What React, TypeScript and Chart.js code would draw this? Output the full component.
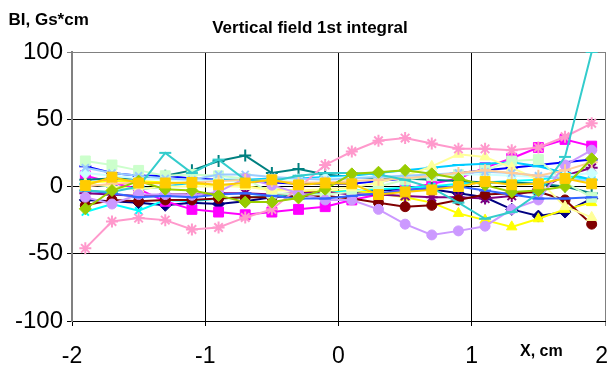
import React, { useEffect, useRef } from 'react';
import { Chart, registerables } from 'chart.js';

Chart.register(...registerables);

const chartTitle = 'Vertical field 1st integral';
const yAxisTitle = 'BI, Gs*cm';
const xAxisTitle = 'X, cm';
const xTickValues = [-2, -1, 0, 1, 2];

const xPositions = [-1.9, -1.7, -1.5, -1.3, -1.1, -0.9, -0.7, -0.5, -0.3, -0.1, 0.1, 0.3, 0.5, 0.7, 0.9, 1.1, 1.3, 1.5, 1.7, 1.9];

const s01Navy = [-10, -11, -12, -14, -12, -13, -11, -8, -6, -5, -4, -3, -2, -2, -5, -8, -17, -22, -19, -9];
const s02Magenta = [8, 3, -2, -11, -17, -19, -21, -19, -17, -15, -10, -6, -2, 2, 6, 14, 21, 29, 35, 30];
const s03Yellow = [3, 4, 4, 3, 2, 1, 0, -2, -3, -4, -3, -5, -8, -12, -20, -25, -30, -24, -17, -12];
const s04Cyan = [-19, -13, -18, -10, -11, -9, -8, -7, -6, -5, -3, -2, -1, 0, 2, 3, 4, 5, 8, 5];
const s05Purple = [-5, -6, -7, -6, -6, -5, -5, -6, -5, -4, -6, -6, -7, -8, -8, -9, -7, -2, 8, 14];
const s06Maroon = [-14, -10, -11, -10, -10, -9, -8, -8, -7, -7, -9, -12, -15, -14, -10, -6, -5, -4, -10, -28];
const s07Teal = [5, 6, 6, 8, 12, 19, 23, 10, 13, 9, 7, 6, 6, 5, 4, 3, 3, 2, 0, -5];
const s08Blue = [15, 10, 8, 8, 6, 5, 4, 3, 2, 2, 2, 4, 6, 8, 10, 12, 14, 16, 18, 20];
const s09SkyBlue = [2, 0, -2, 0, 3, 5, 5, 6, 6, 7, 8, 10, 12, 14, 16, 17, 18, 15, 10, 5];
const s10LightTurquoise = [10, 8, 6, 5, 5, 4, 4, 5, 5, 6, 7, 7, 8, 8, 9, 9, 8, 7, 8, 10];
const s11LightGreen = [19, 16, 12, 8, 9, 8, 6, -5, -6, -6, -4, 0, 5, 8, 9, 12, 19, 20, 3, -8];
const s12LightYellow = [2, 0, -2, 0, 0, 0, 0, -3, -3, -2, -1, 3, 8, 15, 24, 22, 14, 5, -15, -23];
const s13PaleBlue = [14, 10, 8, 6, 5, 9, 9, 7, 6, 5, 6, 7, 8, 9, 10, 11, 10, 8, 6, 4];
const s14Pink = [-46, -26, -23.5, -25, -32, -30.5, -23, -17, -1, 16, 26, 34, 36, 32, 28, 28, 27, 29, 37, 47];
const s15Lavender = [-8, -13, -6, -6, -6.5, -4, 6, 1, -5, -10, -10, -17, -28, -36, -33, -29.5, -17, -10, 16, 27];
const s16Tan = [0, 2, 3, 2, 3, 4, 5, 4, 3, 3, 4, 5, 6, 8, 10, 12, 10, 8, 12, 18];
const s17RoyalBlue = [-3, -5, -8, -7, -8, -6, -5, -7, -9, -9, -7, -5, -3, -1, 0, -3, -6, -9, -9, -8];
const s18Aqua = [-3, -4, 0, 25, 10, 20, 5, 4, 8, 10, 10, 9, 5, -1, -12, -24, -19, -5, 22, 100];
const s19Lime = [-16.6, -3, 4, -2, -3, -6.7, -11.6, -11.6, -8.5, -2, 9.4, 10.6, 12, 9.4, 6, 1, -4, -3, 0, 20.6];
const s20Gold = [0.7, 7, 2.6, 2.6, 3, 1.2, 2.6, 5, 1.2, 2.6, 2, -6, -4, -2.5, 0, 3.7, 1.3, 2, 6, 2];

const seriesValues = [
  s01Navy, s02Magenta, s03Yellow, s04Cyan, s05Purple, s06Maroon, s07Teal, s08Blue, s09SkyBlue, s10LightTurquoise,
  s11LightGreen, s12LightYellow, s13PaleBlue, s14Pink, s15Lavender, s16Tan, s17RoyalBlue, s18Aqua, s19Lime, s20Gold,
];
const seriesColors = [
  '#000080', '#FF00FF', '#FFFF00', '#00FFFF', '#800080', '#800000', '#008080', '#0000FF', '#00CCFF', '#CCFFFF',
  '#CCFFCC', '#FFFF99', '#99CCFF', '#FF99CC', '#CC99FF', '#FFCC99', '#3366FF', '#33CCCC', '#99CC00', '#FFCC00',
];
const seriesMarkers = [
  'rectRot', 'rect', 'triangle', 'crossRot', 'star', 'circle', 'cross', 'line', 'line', 'rectRot',
  'rect', 'triangle', 'crossRot', 'star', 'circle', 'cross', 'line', 'line', 'rectRot', 'rect',
];
const markerRadius: Record<string, number> = {
  rectRot: 6, rect: 7, triangle: 6, crossRot: 5, star: 6, circle: 5, cross: 6, line: 6,
};

const FONT = '"Liberation Sans", Arial, sans-serif';

export default function App() {
  const ref = useRef<HTMLCanvasElement>(null);

  useEffect(() => {
    if (!ref.current) return;
    const textPlugin = {
      id: 'extraTexts',
      afterDraw(chart: any) {
        const ctx = chart.ctx;
        ctx.save();
        ctx.fillStyle = '#000';
        ctx.textBaseline = 'alphabetic';
        ctx.font = `bold 17px ${FONT}`;
        ctx.textAlign = 'left';
        ctx.fillText(yAxisTitle, 8.5, 25);
        ctx.textAlign = 'center';
        ctx.fillText(chartTitle, 310, 33);
        ctx.font = `bold 16px ${FONT}`;
        ctx.textAlign = 'left';
        ctx.fillText(xAxisTitle, 520, 356);
        // x tick labels
        const xs = chart.scales.x;
        ctx.font = `23px ${FONT}`;
        ctx.textAlign = 'center';
        const width = chart.width;
        xTickValues.forEach((v) => {
          const label = String(v);
          const w = ctx.measureText(label).width;
          let cx = xs.getPixelForValue(v);
          if (cx + w / 2 > width - 1) cx = width - 1 - w / 2;
          ctx.fillText(label, cx, 363);
        });
        ctx.restore();
      },
    };

    const datasets = seriesValues.map((vals, i) => {
      const marker = seriesMarkers[i];
      return {
        label: `Series ${i + 1}`,
        data: xPositions.map((x, j) => ({ x, y: vals[j] })),
        borderColor: seriesColors[i],
        backgroundColor: seriesColors[i],
        pointBackgroundColor: seriesColors[i],
        pointBorderColor: seriesColors[i],
        pointStyle: marker,
        pointRadius: markerRadius[marker],
        pointBorderWidth: marker === 'crossRot' || marker === 'star' || marker === 'cross' || marker === 'line' ? 2 : 1,
        borderWidth: 2,
        tension: 0,
        fill: false,
        order: seriesValues.length - i,
      };
    });

    const chart = new Chart(ref.current, {
      type: 'line',
      data: { datasets: datasets as any },
      options: {
        animation: false,
        responsive: false,
        devicePixelRatio: 1,
        layout: { autoPadding: false, padding: { top: 52, right: 4, bottom: 0, left: 0 } },
        plugins: { legend: { display: false }, tooltip: { enabled: false }, title: { display: false } },
        scales: {
          x: {
            type: 'linear',
            min: -2,
            max: 2,
            ticks: { stepSize: 1, display: false },
            grid: {
              color: (c: any) => (c.tick && c.tick.value === 2 ? '#808080' : '#000'),
              lineWidth: 1,
              drawTicks: true,
              tickLength: 5,
            },
            border: { color: '#000', width: 1 },
            afterFit: (s: any) => { s.height = 44; s.paddingLeft = 0; s.paddingRight = 0; },
          },
          y: {
            min: -100,
            max: 100,
            ticks: { stepSize: 50, color: '#000', font: { family: FONT, size: 24 }, padding: 4 },
            grid: {
              color: (c: any) => (c.tick && c.tick.value === 100 ? '#808080' : '#000'),
              lineWidth: 1,
              drawTicks: true,
              tickLength: 5,
            },
            border: { color: '#808080', width: 2 },
            afterFit: (s: any) => { s.width = 72; s.paddingTop = 0; s.paddingBottom = 0; },
          },
        },
      },
      plugins: [textPlugin],
    });
    return () => chart.destroy();
  }, []);

  return (
    <div style={{ position: 'fixed', left: 0, top: 0, width: 609, height: 365, background: '#fff' }}>
      <canvas ref={ref} width={609} height={365} style={{ display: 'block', width: 609, height: 365 }} />
    </div>
  );
}
